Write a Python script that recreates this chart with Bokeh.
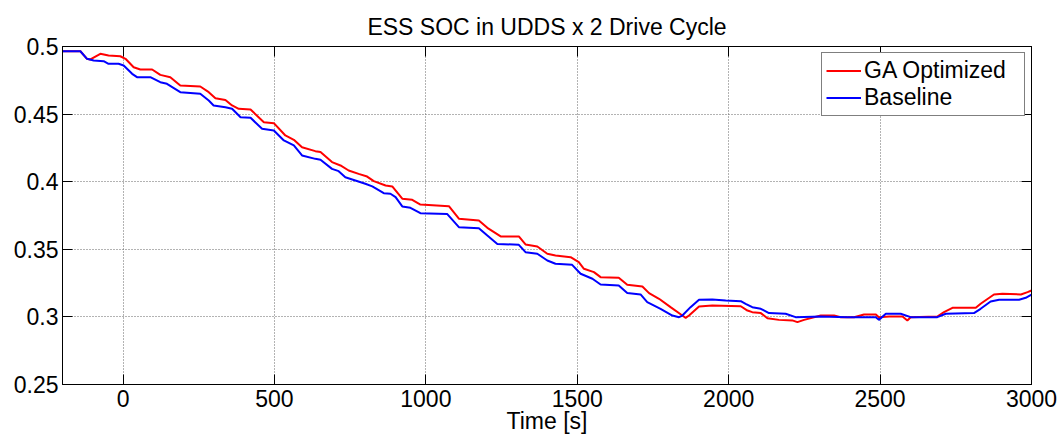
from bokeh.plotting import figure
from bokeh.models import Range1d, FixedTicker, LinearAxis, CustomJSTickFormatter, Legend
from bokeh.embed import file_html
from bokeh.resources import INLINE

# ---- data ----
time_ga = [-200, -141, -119, -108, -75, -48, -9, 8, 35, 57, 96, 123, 156, 189, 255, 283, 305, 338,
           360, 382, 421, 465, 498, 536, 564, 591, 635, 652, 690, 718, 745, 778, 806, 828, 867, 889,
           922, 955, 982, 1076, 1109, 1175, 1203, 1247, 1307, 1329, 1368, 1401, 1428, 1478, 1505,
           1522, 1555, 1577, 1637, 1665, 1715, 1737, 1770, 1808, 1847, 1858, 1869, 1902, 1946, 2040,
           2062, 2078, 2106, 2128, 2166, 2210, 2227, 2249, 2304, 2348, 2370, 2414, 2447, 2486, 2496,
           2530, 2574, 2590, 2601, 2689, 2711, 2739, 2816, 2832, 2876, 2904, 2965, 2987, 3000]
soc_ga = [0.4965, 0.4965, 0.4909, 0.4904, 0.4946, 0.4933, 0.4928, 0.4909, 0.4847, 0.4830, 0.4830,
          0.4790, 0.4773, 0.4711, 0.4704, 0.4662, 0.4618, 0.4605, 0.4564, 0.4539, 0.4534, 0.4440,
          0.4433, 0.4342, 0.4310, 0.4255, 0.4226, 0.4219, 0.4145, 0.4120, 0.4083, 0.4058, 0.4038,
          0.4004, 0.3972, 0.3965, 0.3874, 0.3866, 0.3831, 0.3819, 0.3726, 0.3713, 0.3659, 0.3595,
          0.3595, 0.3536, 0.3521, 0.3467, 0.3454, 0.3442, 0.3405, 0.3356, 0.3331, 0.3294, 0.3290,
          0.3238, 0.3225, 0.3176, 0.3134, 0.3072, 0.3010, 0.2993, 0.3010, 0.3077, 0.3084, 0.3079,
          0.3047, 0.3035, 0.3028, 0.2990, 0.2978, 0.2974, 0.2961, 0.2978, 0.3010, 0.3010, 0.2998,
          0.2998, 0.3018, 0.3018, 0.2998, 0.3003, 0.3003, 0.2974, 0.2998, 0.3003, 0.3035, 0.3067,
          0.3067, 0.3097, 0.3166, 0.3171, 0.3166, 0.3183, 0.3195]

time_base = [-200, -141, -119, -97, -64, -48, -15, 2, 30, 46, 90, 123, 145, 189, 255, 283, 299, 338,
             360, 388, 421, 459, 498, 531, 564, 591, 635, 652, 690, 712, 734, 767, 800, 823, 861, 883,
             900, 922, 949, 982, 1070, 1109, 1175, 1203, 1236, 1307, 1329, 1368, 1401, 1428, 1483,
             1511, 1550, 1577, 1637, 1665, 1709, 1731, 1775, 1814, 1836, 1847, 1874, 1902, 1946, 1990,
             2040, 2056, 2078, 2106, 2133, 2188, 2221, 2304, 2392, 2486, 2496, 2519, 2568, 2601, 2689,
             2717, 2810, 2832, 2865, 2893, 2959, 2981, 3000]
soc_base = [0.4965, 0.4965, 0.4909, 0.4896, 0.4891, 0.4872, 0.4872, 0.4860, 0.4798, 0.4773, 0.4773,
            0.4736, 0.4724, 0.4662, 0.4650, 0.4600, 0.4564, 0.4551, 0.4539, 0.4477, 0.4473, 0.4391,
            0.4379, 0.4305, 0.4268, 0.4194, 0.4169, 0.4162, 0.4095, 0.4078, 0.4033, 0.4009, 0.3985,
            0.3965, 0.3915, 0.3911, 0.3886, 0.3817, 0.3807, 0.3767, 0.3762, 0.3664, 0.3656, 0.3602,
            0.3540, 0.3533, 0.3479, 0.3467, 0.3417, 0.3393, 0.3385, 0.3319, 0.3282, 0.3240, 0.3232,
            0.3176, 0.3166, 0.3109, 0.3060, 0.3010, 0.2998, 0.3010, 0.3072, 0.3127, 0.3129, 0.3121,
            0.3116, 0.3097, 0.3072, 0.3060, 0.3028, 0.3023, 0.2998, 0.3003, 0.2998, 0.2998, 0.2978,
            0.3023, 0.3023, 0.2998, 0.2998, 0.3023, 0.3028, 0.3060, 0.3114, 0.3127, 0.3127, 0.3141,
            0.3164]

x_ticks = [0, 500, 1000, 1500, 2000, 2500, 3000]
y_ticks = [0.25, 0.3, 0.35, 0.4, 0.45, 0.5]
title_text = "ESS SOC in UDDS x 2 Drive Cycle"
x_label = "Time [s]"
series_names = ["GA Optimized", "Baseline"]

FONT = "Liberation Sans"
FS = "23px"

p = figure(width=1062, height=440,
           x_range=Range1d(-200, 3000), y_range=Range1d(0.25, 0.5),
           output_backend="svg", toolbar_location=None,
           min_border_left=62, min_border_right=31, min_border_top=46, min_border_bottom=56)

p.title.text = title_text
p.title.align = "center"
p.title.text_font = FONT
p.title.text_font_size = FS
p.title.text_font_style = "normal"
p.title.text_color = "black"
p.title.standoff = 14

p.outline_line_color = "black"
p.outline_line_width = 1
p.background_fill_color = "white"
p.border_fill_color = "white"

yfmt = CustomJSTickFormatter(code="return String(Math.round(tick*100)/100);")
blank = CustomJSTickFormatter(code="return '';")

for ax in p.xaxis:
    ax.ticker = FixedTicker(ticks=x_ticks)
    ax.axis_label = x_label
    ax.axis_label_text_font = FONT
    ax.axis_label_text_font_size = FS
    ax.axis_label_text_font_style = "normal"
    ax.axis_label_text_color = "black"
    ax.axis_label_standoff = -2
    ax.major_label_standoff = 5
for ax in p.yaxis:
    ax.ticker = FixedTicker(ticks=y_ticks)
    ax.formatter = yfmt
    ax.major_label_standoff = 4

for ax in list(p.xaxis) + list(p.yaxis):
    ax.major_tick_in = 10
    ax.major_tick_out = 0
    ax.minor_tick_line_color = None
    ax.axis_line_color = "black"
    ax.major_tick_line_color = "black"
    ax.major_label_text_font = FONT
    ax.major_label_text_font_size = FS
    ax.major_label_text_color = "black"

top = LinearAxis(ticker=FixedTicker(ticks=x_ticks), formatter=blank, major_tick_in=10,
                 major_tick_out=0, minor_tick_line_color=None, major_label_standoff=0,
                 axis_line_color="black", major_tick_line_color="black")
right = LinearAxis(ticker=FixedTicker(ticks=y_ticks), formatter=blank, major_tick_in=10,
                   major_tick_out=0, minor_tick_line_color=None, major_label_standoff=0,
                   axis_line_color="black", major_tick_line_color="black")
p.add_layout(top, "above")
p.add_layout(right, "right")

for g in (p.xgrid, p.ygrid):
    g.grid_line_color = "#666666"
    g.grid_line_dash = "1 2"
    g.grid_line_width = 1
p.xgrid.ticker = FixedTicker(ticks=x_ticks)
p.ygrid.ticker = FixedTicker(ticks=y_ticks)

r1 = p.line(time_ga, soc_ga, line_color="#ff0000", line_width=2)
r2 = p.line(time_base, soc_base, line_color="#0000ff", line_width=2)

legend = Legend(items=[(series_names[0], [r1]), (series_names[1], [r2])],
                location="top_right", margin=6, padding=4, spacing=0,
                glyph_width=35, glyph_height=27, label_height=27, label_width=156,
                label_standoff=3, label_text_font=FONT, label_text_font_size=FS,
                label_text_color="black",
                border_line_color="black", border_line_width=1,
                background_fill_color="white", background_fill_alpha=1.0)
p.add_layout(legend, "center")

open("out.html", "w").write(file_html(p, INLINE))
